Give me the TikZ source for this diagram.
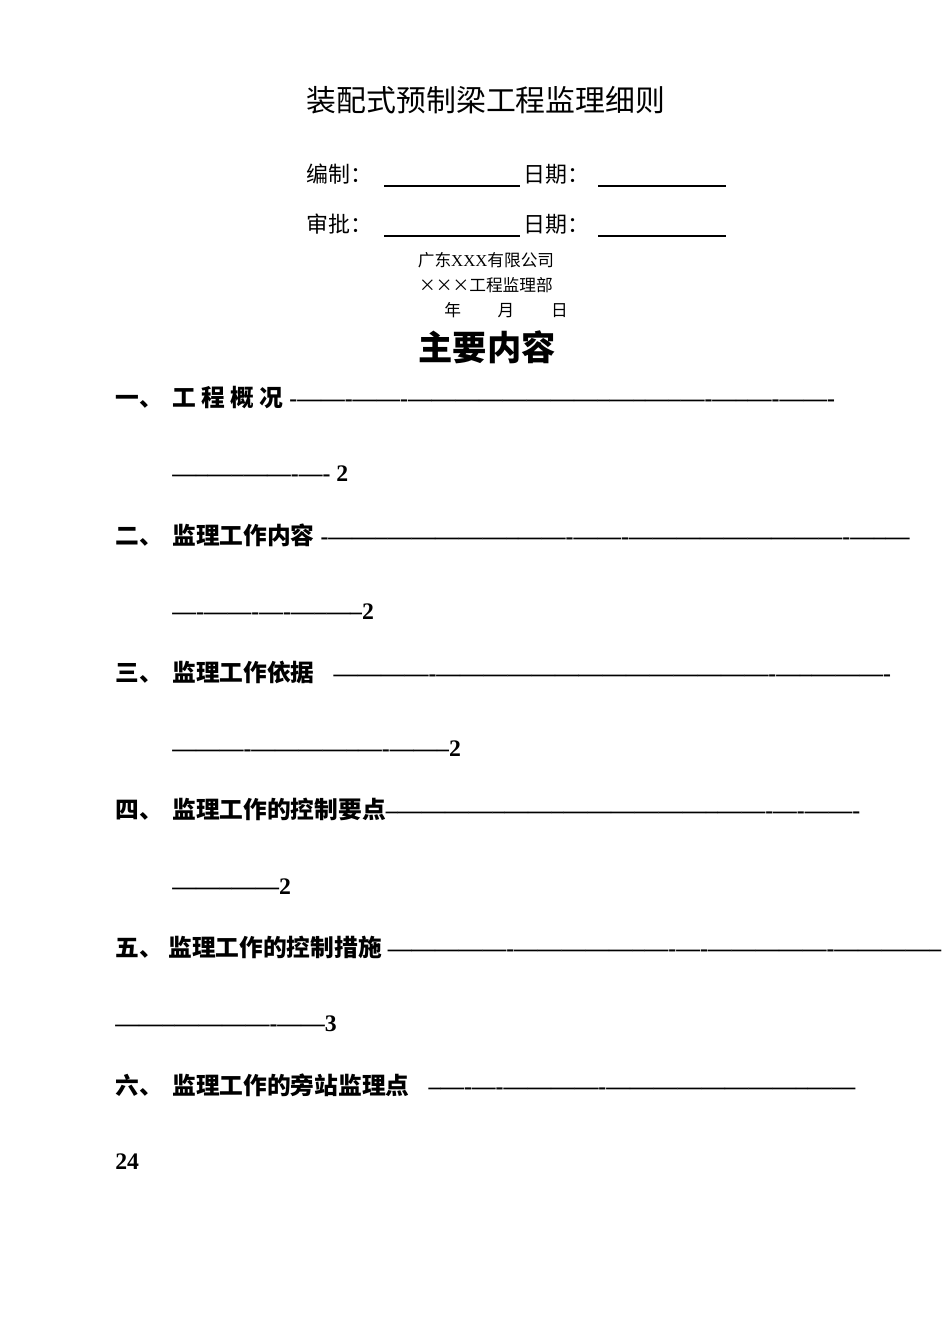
\documentclass[tikz,border=0pt]{standalone}
\usepackage{fontspec}
\setmainfont{Liberation Serif}
\newfontfamily\cjk{Noto Sans CJK SC}
\tikzset{t/.style={anchor=base west,inner sep=0pt},
toc/.style={t,font=\bfseries\fontsize{13.5}{14}\selectfont},
ul/.style={line width=0.8pt}}
\newcommand{\C}[1]{{\cjk #1}}
\begin{document}
\begin{tikzpicture}[x=0.02cm,y=-0.02cm]
\useasboundingbox (0,0) rectangle (950,1344);
\node[inner sep=0pt,anchor=base,font=\fontsize{17}{18}\selectfont] (title) at (486,112) {\C{装配式预制梁工程监理细则}};
\node[t,font=\fontsize{12.5}{13}\selectfont] (b1) at (306,183) {\C{编制：}};
\node[t,font=\fontsize{12.5}{13}\selectfont] (d1) at (523,183) {\C{日期：}};
\draw[ul] (384,186) -- (520,186);
\draw[ul] (598,186) -- (726,186);
\node[t,font=\fontsize{12.5}{13}\selectfont] (b2) at (306,233) {\C{审批：}};
\node[t,font=\fontsize{12.5}{13}\selectfont] (d2) at (523,233) {\C{日期：}};
\draw[ul] (384,236) -- (520,236);
\draw[ul] (598,236) -- (726,236);
\node[inner sep=0pt,anchor=base,font=\fontsize{9.5}{10}\selectfont] (co) at (486,267) {\C{广东}XXX\C{有限公司}};
\node[inner sep=0pt,anchor=base,font=\fontsize{9.5}{10}\selectfont] (dep) at (486,292) {\C{×××工程监理部}};
\node[inner sep=0pt,anchor=base,font=\fontsize{9.5}{10}\selectfont] (ymd) at (506,317) {\C{年\hspace{2.2em}月\hspace{2.2em}日}};
\node[inner sep=0pt,anchor=base,font=\fontsize{19.5}{20}\selectfont] (main) at (487,360) {\cjk\bfseries 主要内容};
% TOC
\node[toc] (n1) at (115,406) {\C{一、}};
\node[toc] (e1) at (172,406) {\C{工 程 概 况} -—----——-—------————-----—--—--—-—--—-—----};
\node[toc] (e1b) at (172,481) {—--—--——-—- 2};
\node[toc] (n2) at (115,544) {\C{二、}};
\node[toc] (e2) at (172,544) {\C{监理工作内容} -——--————-----——-——-————---————-—--—};
\node[toc] (e2b) at (172,619) {—-——-—-—--—--2};
\node[toc] (n3) at (115,681) {\C{三、}};
\node[toc] (e3) at (172,681) {\C{监理工作依据}\hspace{0.8em}———----——————————————-—--———-};
\node[toc] (e3b) at (172,756) {—-------————--—-——--2};
\node[toc] (n4) at (115,818) {\C{四、}};
\node[toc] (e4) at (172,818) {\C{监理工作的控制要点}--—---—-----—-----——————--——-—-——-};
\node[toc] (e4b) at (172,894) {——--——2};
\node[toc] (n5) at (115,956) {\C{五、}};
\node[toc] (e5) at (168,956) {\C{监理工作的控制措施} —————-————-----—-—-—————-————--};
\node[toc] (e5b) at (115,1031) {——--————-——3};
\node[toc] (n6) at (115,1094) {\C{六、}};
\node[toc] (e6) at (172,1094) {\C{监理工作的旁站监理点}\hspace{0.8em}--—-—-————-——---—------——--—---};
\node[toc] (e6b) at (115,1169) {24};
\end{tikzpicture}
\end{document}
